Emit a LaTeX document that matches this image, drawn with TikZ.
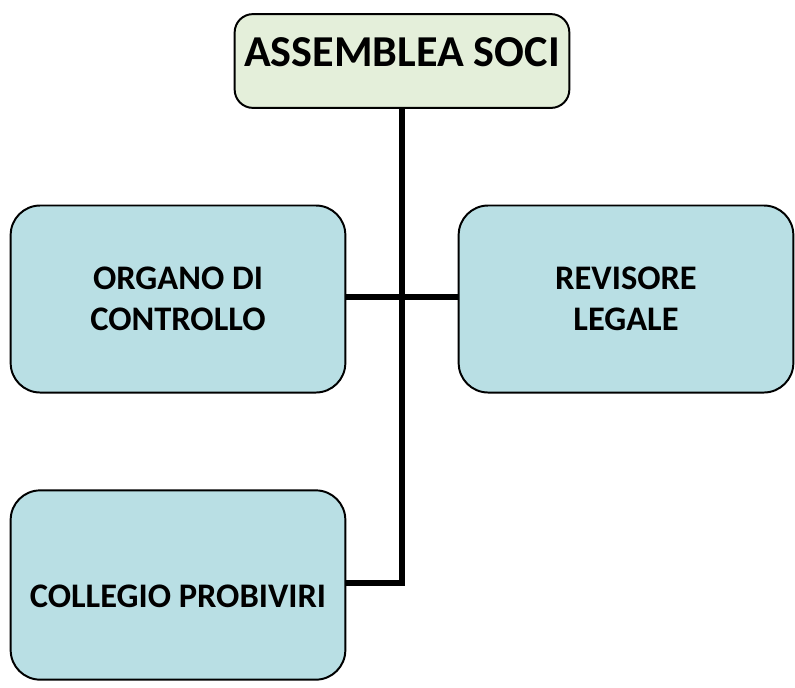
\documentclass[tikz,border=0pt]{standalone}
\usepackage{fontspec}
\setmainfont{Carlito}
\definecolor{verdino}{HTML}{E4EFDA}
\definecolor{azzurro}{HTML}{B9DFE4}
\tikzset{
  ente/.style={draw=black,line width=1.4pt,fill=azzurro,rounded corners=21pt,
    inner sep=0pt,minimum width=238pt,font=\bfseries\fontsize{24.5}{29}\selectfont},
  collega/.style={line width=4.2pt,line join=miter}
}
\begin{document}
\begin{tikzpicture}[x=0.025cm,y=-0.025cm]
  \useasboundingbox (0,0) rectangle (795,687);
  % riquadri
  \node[ente,fill=verdino,rounded corners=13pt,text height=36.9pt,text depth=29.8pt,
    font=\bfseries\fontsize{31.4}{38}\selectfont] (assemblea) at (402,61) {ASSEMBLEA SOCI};
  \node[ente,minimum height=133pt,align=center] (organo) at (178,299) {ORGANO DI\\CONTROLLO};
  \node[ente,minimum height=133pt,align=center] (revisore) at (626,299) {REVISORE\\LEGALE};
  \node[ente,text height=83.6pt,text depth=51pt] (collegio) at (178,585) {COLLEGIO PROBIVIRI};
  % collegamenti
  \draw[collega] (assemblea.south) |- ([yshift=1.4pt]collegio.east);
  \draw[collega] ([yshift=1.4pt]organo.east) -- ([yshift=1.4pt]revisore.west);
\end{tikzpicture}
\end{document}
